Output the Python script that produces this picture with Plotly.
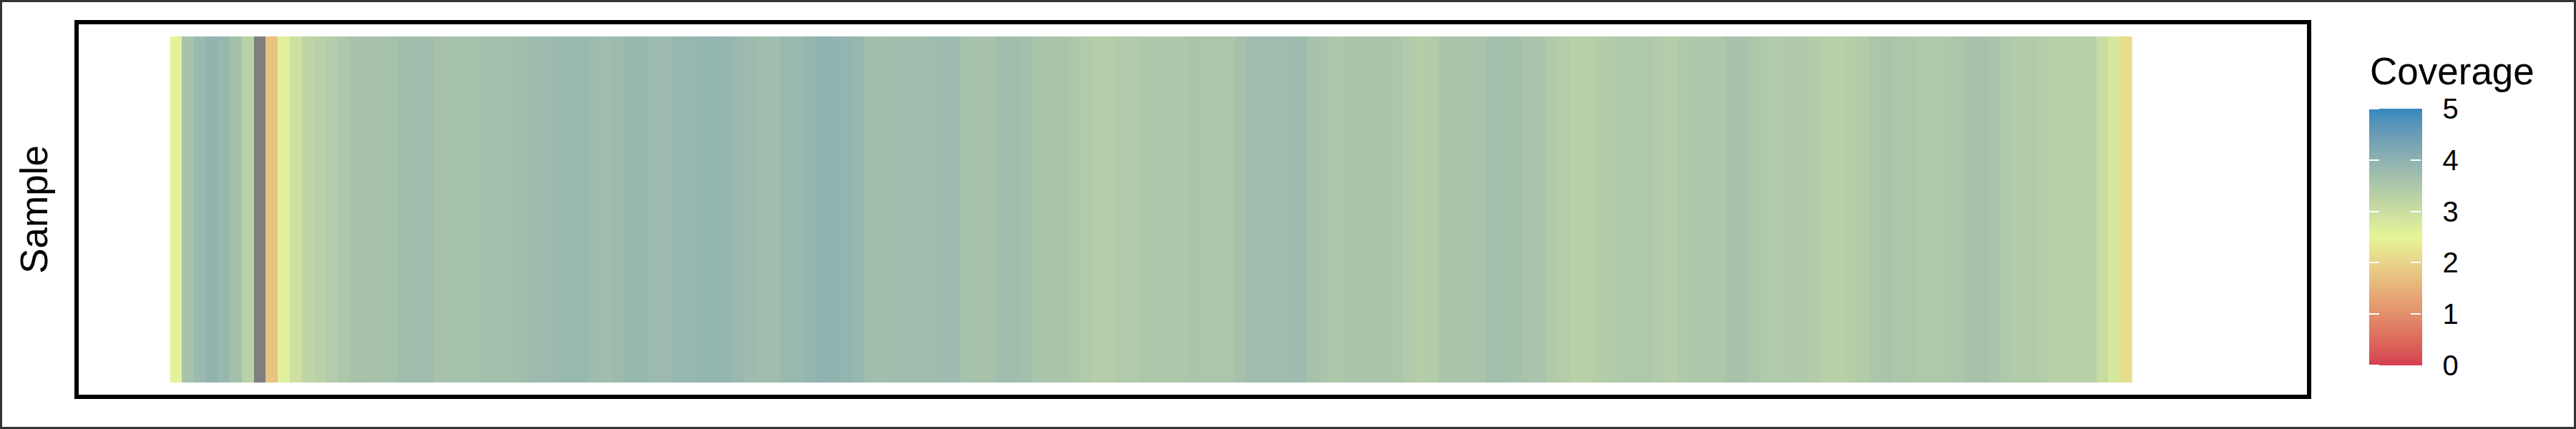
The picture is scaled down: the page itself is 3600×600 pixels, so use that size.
import plotly.graph_objects as go

# ---------------- data ----------------
sample_names = ["Sample"]
coverage = [
    2.55, 3.60, 3.80, 3.95, 3.85, 3.65, 3.30, None, 1.75, 2.60,
    2.95, 3.20, 3.30, 3.40, 3.50, 3.60, 3.62, 3.62, 3.63, 3.70,
    3.72, 3.72, 3.62, 3.62, 3.63, 3.62, 3.67, 3.67, 3.68, 3.70,
    3.78, 3.78, 3.82, 3.84, 3.84, 3.76, 3.72, 3.78, 3.86, 3.86,
    3.78, 3.78, 3.87, 3.87, 3.90, 3.93, 3.90, 3.82, 3.75, 3.72,
    3.72, 3.82, 3.82, 3.92, 3.97, 3.95, 3.93, 3.87, 3.72, 3.68,
    3.72, 3.72, 3.72, 3.74, 3.77, 3.77, 3.63, 3.60, 3.60, 3.72,
    3.72, 3.67, 3.58, 3.57, 3.57, 3.52, 3.43, 3.37, 3.37, 3.44,
    3.44, 3.50, 3.50, 3.50, 3.50, 3.56, 3.54, 3.54, 3.54, 3.64,
    3.74, 3.74, 3.74, 3.74, 3.75, 3.63, 3.55, 3.50, 3.55, 3.55,
    3.58, 3.58, 3.54, 3.44, 3.35, 3.42, 3.55, 3.57, 3.57, 3.57,
    3.67, 3.67, 3.64, 3.58, 3.58, 3.44, 3.38, 3.32, 3.32, 3.38,
    3.42, 3.46, 3.48, 3.47, 3.42, 3.36, 3.45, 3.50, 3.50, 3.50,
    3.60, 3.60, 3.52, 3.44, 3.44, 3.45, 3.45, 3.38, 3.32, 3.32,
    3.36, 3.42, 3.54, 3.58, 3.52, 3.52, 3.48, 3.48, 3.49, 3.53,
    3.62, 3.62, 3.55, 3.45, 3.42, 3.44, 3.40, 3.32, 3.31, 3.31,
    3.32, 3.05, 2.80, 2.15,
]
positions = list(range(1, len(coverage) + 1))
scale_min, scale_max = 0, 5
tick_values = [0, 1, 2, 3, 4, 5]
tick_labels = ["0", "1", "2", "3", "4", "5"]
legend_title = "Coverage"
y_title = "Sample"

# ---------------- colour scale (Lab interpolation like ggplot) ----------------
anchors = ["#D53E4F", "#E6F598", "#3288BD"]


def _hex_rgb(h):
    h = h.lstrip("#")
    return [int(h[i:i + 2], 16) / 255 for i in (0, 2, 4)]


def _lin(c):
    return c / 12.92 if c <= 0.04045 else ((c + 0.055) / 1.055) ** 2.4


def _gam(c):
    c = max(0.0, min(1.0, c))
    return 12.92 * c if c <= 0.0031308 else 1.055 * c ** (1 / 2.4) - 0.055


WX, WY, WZ = 0.95047, 1.0, 1.08883


def _f(t):
    return t ** (1 / 3) if t > 0.008856 else 7.787 * t + 16 / 116


def _finv(t):
    return t ** 3 if t ** 3 > 0.008856 else (t - 16 / 116) / 7.787


def to_lab(h):
    r, g, b = [_lin(c) for c in _hex_rgb(h)]
    X = 0.4124 * r + 0.3576 * g + 0.1805 * b
    Y = 0.2126 * r + 0.7152 * g + 0.0722 * b
    Z = 0.0193 * r + 0.1192 * g + 0.9505 * b
    fx, fy, fz = _f(X / WX), _f(Y / WY), _f(Z / WZ)
    return (116 * fy - 16, 500 * (fx - fy), 200 * (fy - fz))


def from_lab(L, a, b):
    fy = (L + 16) / 116
    fx = fy + a / 500
    fz = fy - b / 200
    X, Y, Z = WX * _finv(fx), WY * _finv(fy), WZ * _finv(fz)
    r = 3.2406 * X - 1.5372 * Y - 0.4986 * Z
    g = -0.9689 * X + 1.8758 * Y + 0.0415 * Z
    bb = 0.0557 * X - 0.2040 * Y + 1.0570 * Z
    return "rgb(%d,%d,%d)" % tuple(round(_gam(c) * 255) for c in (r, g, bb))


labs = [to_lab(h) for h in anchors]
colorscale = []
N = 60
for i in range(N + 1):
    t = i / N
    seg = min(int(t * 2), 1)
    u = t * 2 - seg
    A, B = labs[seg], labs[seg + 1]
    colorscale.append([t, from_lab(*[A[k] + (B[k] - A[k]) * u for k in range(3)])])

# ---------------- layout geometry ----------------
W, H = 3600, 600
ML, MR, MT, MB = 107, 373, 31, 45
PW, PH = W - ML - MR, H - MT - MB


def px_x(p):
    return (p - ML) / PW


def px_y(p):
    return (H - MB - p) / PH


BAR_LEFT, BAR_RIGHT, BAR_TOP, BAR_BOTTOM = 3311, 3383, 152, 511
FONT = "Liberation Sans, Arial, Helvetica, sans-serif"

fig = go.Figure()

# NA cells drawn in grey (ggplot na.value)
fig.add_trace(go.Heatmap(
    x=positions, y=sample_names,
    z=[[1 if v is None else None for v in coverage]],
    colorscale=[[0, "#7F7F7F"], [1, "#7F7F7F"]],
    showscale=False, hoverinfo="skip",
))

cb_common = dict(
    xref="container", yref="paper", xanchor="left", xpad=0,
    y=px_y(BAR_BOTTOM), yanchor="bottom", ypad=0,
    len=BAR_BOTTOM - BAR_TOP, lenmode="pixels",
    outlinewidth=0, tickmode="array", tickvals=tick_values,
)

fig.add_trace(go.Heatmap(
    x=positions, y=sample_names, z=[coverage],
    zmin=scale_min, zmax=scale_max, colorscale=colorscale,
    colorbar=dict(
        cb_common, x=BAR_LEFT / W,
        thickness=BAR_RIGHT - BAR_LEFT, thicknessmode="pixels",
        ticktext=tick_labels,
        ticks="outside", ticklen=23, tickcolor="rgba(0,0,0,0)",
        tickfont=dict(family=FONT, size=40, color="black"),
    ),
    hovertemplate="Position %{x}<br>Coverage %{z}<extra></extra>",
))

# white ticks on both edges of the colour bar (as in ggplot)
for xpos, tickside in ((BAR_LEFT, "outside"), (BAR_RIGHT, "inside")):
    fig.add_trace(go.Scatter(
        x=[None], y=[None], mode="markers", showlegend=False, hoverinfo="skip",
        marker=dict(
            color=[scale_min], cmin=scale_min, cmax=scale_max,
            colorscale=colorscale, showscale=True,
            colorbar=dict(
                cb_common, x=xpos / W, thickness=0, showticklabels=False,
                ticks=tickside, ticklen=14, tickwidth=2, tickcolor="white",
            ),
        ),
    ))

fig.update_layout(
    width=W, height=H,
    margin=dict(l=ML, r=MR, t=MT, b=MB, autoexpand=False),
    paper_bgcolor="white", plot_bgcolor="white",
    font=dict(family=FONT, color="black"),
    showlegend=False,
    xaxis=dict(range=[-7.317, 179.29], showticklabels=False, ticks="",
               showgrid=False, zeroline=False, showline=False),
    yaxis=dict(range=[-0.5413, 0.5413], showticklabels=False, ticks="",
               showgrid=False, zeroline=False, showline=False,
               title=dict(text=y_title, font=dict(family=FONT, size=53),
                          standoff=22)),
    annotations=[dict(
        text=legend_title, xref="paper", yref="paper",
        x=px_x(3310), y=px_y(100), xanchor="left", yanchor="middle",
        showarrow=False, font=dict(family=FONT, size=53, color="black"),
    )],
    shapes=[
        dict(type="rect", xref="paper", yref="paper", x0=0, x1=1, y0=0, y1=1,
             line=dict(color="black", width=6), layer="above"),
        dict(type="rect", xref="paper", yref="paper",
             x0=px_x(1.5), x1=px_x(W - 1.5), y0=px_y(H - 1.5), y1=px_y(1.5),
             line=dict(color="#333333", width=3), layer="above"),
    ],
)

fig.write_html("out.html",
               config={"displayModeBar": False},
               post_script="document.body.style.margin='0px';")
